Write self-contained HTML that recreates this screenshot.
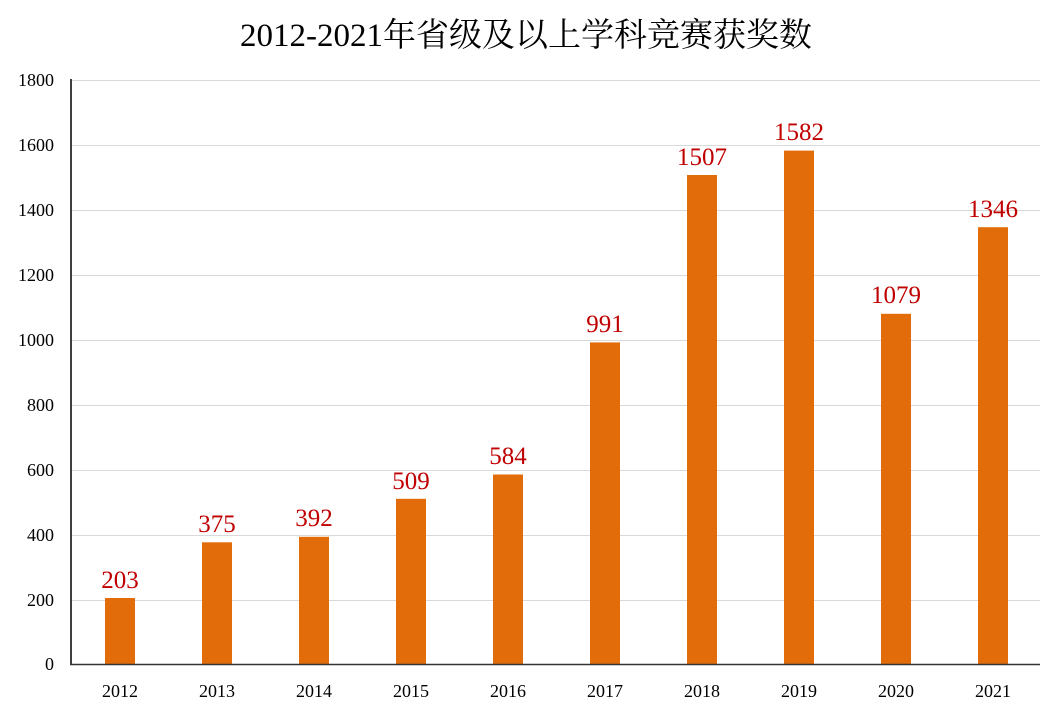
<!DOCTYPE html><html><head><meta charset="utf-8"><style>body{margin:0;background:#fff}</style></head><body>
<svg width="1058" height="712" xmlns="http://www.w3.org/2000/svg" font-family="Liberation Serif, Noto Serif CJK SC, serif">
<rect width="1058" height="712" fill="#fff"/>
<text x="526" y="46" font-size="33" text-anchor="middle" fill="#000">2012-2021年省级及以上学科竞赛获奖数</text>
<g stroke="#d9d9d9" stroke-width="1">
<line x1="71" x2="1040" y1="80.5" y2="80.5"/><line x1="71" x2="1040" y1="145.5" y2="145.5"/><line x1="71" x2="1040" y1="210.5" y2="210.5"/><line x1="71" x2="1040" y1="275.5" y2="275.5"/><line x1="71" x2="1040" y1="340.5" y2="340.5"/><line x1="71" x2="1040" y1="405.5" y2="405.5"/><line x1="71" x2="1040" y1="470.5" y2="470.5"/><line x1="71" x2="1040" y1="535.5" y2="535.5"/><line x1="71" x2="1040" y1="600.5" y2="600.5"/>
</g>
<g font-size="18" text-anchor="end" fill="#000">
<text x="54" y="86">1800</text><text x="54" y="151">1600</text><text x="54" y="216">1400</text><text x="54" y="281">1200</text><text x="54" y="346">1000</text><text x="54" y="411">800</text><text x="54" y="476">600</text><text x="54" y="541">400</text><text x="54" y="606">200</text><text x="54" y="670">0</text>
</g>
<g fill="#E36C0A">
<rect x="105" y="598" width="30" height="66"/>
<rect x="202" y="542.3" width="30" height="121.7"/>
<rect x="299" y="536.8" width="30" height="127.2"/>
<rect x="396" y="498.8" width="30" height="165.2"/>
<rect x="493" y="474.5" width="30" height="189.5"/>
<rect x="590" y="342.4" width="30" height="321.6"/>
<rect x="687" y="175" width="30" height="489"/>
<rect x="784" y="150.6" width="30" height="513.4"/>
<rect x="881" y="313.8" width="30" height="350.2"/>
<rect x="978" y="227.2" width="30" height="436.8"/>
</g>
<g font-size="25" text-anchor="middle" fill="#C00000">
<text x="120" y="588">203</text><text x="217" y="532">375</text><text x="314" y="526">392</text><text x="411" y="489">509</text><text x="508" y="464">584</text><text x="605" y="332">991</text><text x="702" y="165">1507</text><text x="799" y="140">1582</text><text x="896" y="303">1079</text><text x="993" y="217">1346</text>
</g>
<line x1="71" y1="79" x2="71" y2="664.5" stroke="#000" stroke-width="1.5"/>
<line x1="70" y1="664.5" x2="1040" y2="664.5" stroke="#333" stroke-width="1.5"/>
<g font-size="18" text-anchor="middle" fill="#000">
<text x="120" y="697">2012</text><text x="217" y="697">2013</text><text x="314" y="697">2014</text><text x="411" y="697">2015</text><text x="508" y="697">2016</text><text x="605" y="697">2017</text><text x="702" y="697">2018</text><text x="799" y="697">2019</text><text x="896" y="697">2020</text><text x="993" y="697">2021</text>
</g>
</svg></body></html>
